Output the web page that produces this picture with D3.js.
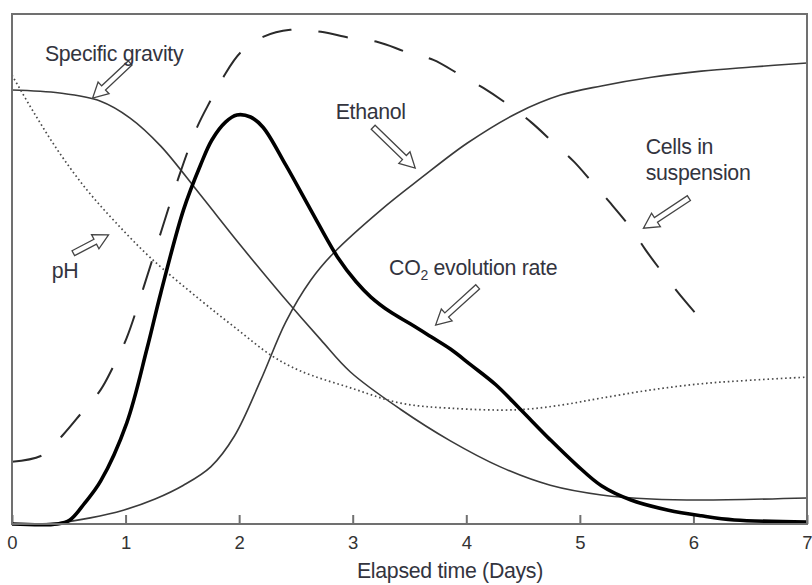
<!DOCTYPE html>
<html lang="en">
<head>
<meta charset="UTF-8">
<title>Fermentation profile</title>
<style>
    body { margin: 0; background: #fff; }
    svg { display: block; font-family: "Liberation Sans", Arial, sans-serif; }
    .frame { fill: none; stroke: #707070; stroke-width: 2; }
    .tick line { stroke: #707070; stroke-width: 2; }
    .tick text { fill: #333; font-size: 18.5px; }
    .label { fill: #33343e; font-size: 21.3px; letter-spacing: -0.3px; }
    .arrow { fill: #fff; stroke: #444; stroke-width: 1.3; }
</style>
</head>
<body>
<svg id="chart" width="812" height="585"></svg>
<script src="https://d3js.org/d3.v7.min.js"></script>
<script>
    // values, y is a relative 0-100 scale (no y axis shown)
    const dayTicks = [0, 1, 2, 3, 4, 5, 6, 7];

    const gravityDays   = [0, 0.42, 0.78, 1.04, 1.31, 1.66, 2.01, 2.39, 2.72, 2.98, 3.42, 3.86, 4.30, 4.74, 5.19, 5.63, 6.07, 7.0];
    const gravityValues = [85.1, 84.5, 82.9, 79.6, 74.1, 64.5, 54.7, 44.5, 36.1, 29.8, 22.5, 16.3, 11.2, 7.6, 5.7, 4.9, 4.7, 5.1];

    const phDays   = [0, 0.20, 0.42, 0.66, 0.91, 1.22, 1.66, 1.97, 2.28, 2.54, 2.98, 3.42, 3.86, 4.45, 4.83, 5.19, 5.63, 6.07, 6.51, 7.0];
    const phValues = [88.0, 80.4, 72.7, 65.5, 59.2, 52.2, 43.9, 38.4, 33.1, 30.0, 26.7, 23.7, 22.7, 22.4, 23.3, 24.7, 26.3, 27.5, 28.2, 28.8];

    const ethanolDays   = [0, 0.40, 0.69, 0.98, 1.26, 1.51, 1.75, 1.96, 2.19, 2.41, 2.63, 2.83, 3.25, 3.60, 4.01, 4.45, 4.83, 5.19, 5.63, 6.07, 6.51, 7.0];
    const ethanolValues = [0, 0.2, 1.2, 2.7, 4.9, 7.6, 11.2, 17.3, 28.2, 39.6, 47.8, 53.1, 61.6, 67.8, 74.7, 80.6, 84.1, 85.9, 87.6, 88.8, 89.6, 90.4];

    const co2Days   = [0, 0.40, 0.51, 0.64, 0.78, 1.01, 1.19, 1.31, 1.51, 1.66, 1.76, 1.88, 1.98, 2.10, 2.21, 2.41, 2.63, 2.87, 3.03, 3.16, 3.33, 3.51, 3.69, 3.86, 4.04, 4.26, 4.48, 4.74, 4.97, 5.19, 5.45, 5.78, 6.07, 6.36, 7.0];
    const co2Values = [0, 0, 0.8, 4.1, 8.4, 19.8, 34.5, 45.3, 61.6, 70.4, 75.3, 78.8, 80.2, 79.8, 77.8, 70.4, 61.6, 52.2, 47.5, 44.5, 41.6, 39.2, 36.7, 34.3, 31.2, 27.3, 22.4, 16.5, 11.6, 7.5, 4.7, 2.7, 1.6, 0.8, 0.4];

    const cellsDays   = [0, 0.27, 0.45, 0.62, 0.78, 0.89, 1.01, 1.16, 1.31, 1.46, 1.63, 1.75, 1.86, 2.01, 2.21, 2.45, 2.72, 2.98, 3.22, 3.48, 3.71, 3.95, 4.15, 4.37, 4.57, 4.77, 4.95, 5.12, 5.27, 5.45, 5.58, 5.71, 5.92, 6.11];
    const cellsValues = [12.2, 13.5, 17.5, 22.0, 26.3, 30.8, 36.5, 46.5, 57.1, 67.5, 77.8, 83.1, 87.6, 92.4, 95.5, 96.9, 96.5, 95.3, 94.5, 92.5, 91.0, 88.0, 85.5, 82.2, 78.8, 74.7, 71.0, 66.7, 62.9, 58.0, 53.7, 49.8, 43.9, 39.0];

    const svg = d3.select("#chart");
    const margin = {top: 14, right: 5, bottom: 61, left: 12};
    const width = 812 - margin.left - margin.right;
    const height = 585 - margin.top - margin.bottom;

    const x = d3.scaleLinear().domain([0, 7]).range([margin.left, margin.left + width]);
    const y = d3.scaleLinear().domain([0, 100]).range([margin.top + height, margin.top]);

    const zip = (xs, ys) => xs.map((d, i) => [d, ys[i]]);
    const line = d3.line()
        .x(d => x(d[0]))
        .y(d => Math.min(y(d[1]), y(0)))
        .curve(d3.curveCatmullRom.alpha(0.5));

    // x axis, ticks pointing into the plot
    const xAxis = svg.append("g")
        .attr("transform", `translate(0,${margin.top + height})`)
        .call(d3.axisBottom(x).tickValues(dayTicks).tickSize(-9).tickPadding(12).tickFormat(d3.format("d")));
    xAxis.select(".domain").remove();
    xAxis.selectAll(".tick line").attr("stroke", null);
    xAxis.selectAll(".tick text").attr("fill", null).attr("font-size", null).attr("font-family", null);

    const series = [
        {pts: zip(gravityDays, gravityValues), stroke: "#3a3a3a", width: 1.6, dash: null},
        {pts: zip(phDays, phValues), stroke: "#4a4a4a", width: 1.7, dash: "1.6,2.8"},
        {pts: zip(ethanolDays, ethanolValues), stroke: "#3a3a3a", width: 1.6, dash: null},
        {pts: zip(cellsDays, cellsValues), stroke: "#2a2a2a", width: 2, dash: "30,27"},
        {pts: zip(co2Days, co2Values), stroke: "#000", width: 3.6, dash: null}
    ];

    svg.append("g").selectAll("path")
        .data(series)
        .enter().append("path")
        .attr("d", d => line(d.pts))
        .attr("fill", "none")
        .attr("stroke", d => d.stroke)
        .attr("stroke-width", d => d.width)
        .attr("stroke-dasharray", d => d.dash)
        .attr("stroke-linecap", "butt");

    svg.append("rect")
        .attr("class", "frame")
        .attr("x", margin.left).attr("y", margin.top)
        .attr("width", width).attr("height", height);

    // annotations: text in data units, arrows from tail to tip
    const notes = [
        {lines: ["Specific gravity"], at: [0.29, 90.8], tail: [1.04, 90.4], tip: [0.71, 83.5]},
        {lines: ["Ethanol"], at: [2.85, 79.4], tail: [3.18, 77.8], tip: [3.55, 69.8]},
        {lines: ["Cells in", "suspension"], at: [5.58, 72.5], tail: [5.96, 63.9], tip: [5.56, 58.0]},
        {lines: ["pH"], at: [0.35, 48.2], tail: [0.54, 53.1], tip: [0.85, 56.7]},
        {lines: ["CO2 evolution rate"], at: [3.32, 48.8], tail: [4.10, 46.5], tip: [3.73, 39.0]}
    ];

    function arrowPath(tail, tip) {
        const x0 = x(tail[0]), y0 = y(tail[1]), x1 = x(tip[0]), y1 = y(tip[1]);
        const len = Math.hypot(x1 - x0, y1 - y0);
        const ang = Math.atan2(y1 - y0, x1 - x0) * 180 / Math.PI;
        const sw = 2.8, hw = 8, hl = 15;
        const p = [[0, -sw], [len - hl, -sw], [len - hl, -hw], [len, 0], [len - hl, hw], [len - hl, sw], [0, sw]];
        return {d: "M" + p.join("L") + "Z", transform: `translate(${x0},${y0}) rotate(${ang})`};
    }

    const g = svg.append("g");
    notes.forEach(n => {
        const a = arrowPath(n.tail, n.tip);
        g.append("path").attr("class", "arrow").attr("d", a.d).attr("transform", a.transform);

        const t = g.append("text").attr("class", "label")
            .attr("x", x(n.at[0])).attr("y", y(n.at[1]));
        n.lines.forEach((s, i) => {
            const span = t.append("tspan").attr("x", x(n.at[0])).attr("dy", i === 0 ? 0 : 26);
            if (s.startsWith("CO2")) {
                span.text("CO");
                t.append("tspan").attr("font-size", "14px").attr("dy", 5).text("2");
                t.append("tspan").attr("dy", -5).text(" " + s.slice(4));
            } else {
                span.text(s);
            }
        });
    });

    svg.append("text")
        .attr("class", "label")
        .attr("x", 450).attr("y", 578)
        .attr("text-anchor", "middle")
        .text("Elapsed time (Days)");
</script>
</body>
</html>
